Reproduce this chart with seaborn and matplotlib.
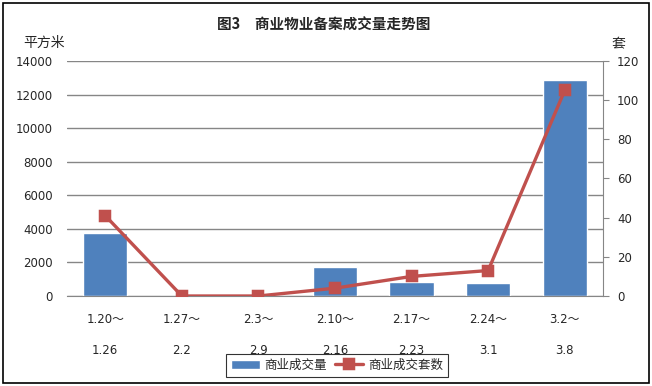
import matplotlib
matplotlib.use("Agg")
import matplotlib.pyplot as plt
import seaborn as sns
import pandas as pd
from matplotlib.patches import Rectangle

sns.set_style("white")
plt.rcParams['font.family'] = ['Noto Sans CJK SC', 'DejaVu Sans']

categories = ["1.20～\n\n1.26", "1.27～\n\n2.2", "2.3～\n\n2.9", "2.10～\n\n2.16",
              "2.17～\n\n2.23", "2.24～\n\n3.1", "3.2～\n\n3.8"]
area = [3740, 0, 0, 1700, 860, 800, 12870]
units = [41, 0, 0, 4, 10, 13, 105]
left_ticks = [0, 2000, 4000, 6000, 8000, 10000, 12000, 14000]
right_ticks = [0, 20, 40, 60, 80, 100, 120]

bar_color = "#4F81BD"
line_color = "#C0504D"
grid_color = "#868686"

df = pd.DataFrame({"period": categories, "area": area, "units": units})

fig = plt.figure(figsize=(6.52, 3.86), dpi=100)
ax = fig.add_axes([67/652, 1-296/386, (603-67)/652, (296-61)/386])

sns.barplot(data=df, x="period", y="area", color=bar_color, width=0.58,
            saturation=1, ax=ax, label="商业成交量", zorder=2)
ax.set_ylim(0, 14000)
ax.set_yticks(left_ticks)
ax.set_yticklabels([str(t) for t in left_ticks], fontsize=8.5, family=['DejaVu Sans'])
ax.yaxis.grid(True, color=grid_color, linewidth=1)
ax.set_axisbelow(True)
ax.set_xlabel("")
ax.set_ylabel("")
for s in ["top", "left", "right"]:
    ax.spines[s].set_visible(False)
ax.spines["bottom"].set_color(grid_color)
ax.tick_params(axis="y", length=0, pad=10)
ax.tick_params(axis="x", length=0, pad=12)
for lbl in ax.get_xticklabels():
    lbl.set_fontsize(8.5)
    lbl.set_linespacing(1.25)
    lbl.set_family(['DejaVu Sans', 'Noto Sans CJK SC'])

ax2 = ax.twinx()
sns.pointplot(data=df, x="period", y="units", color=line_color, markers="s",
              linestyles="-", ax=ax2, label="商业成交套数", markersize=7,
              linewidth=2.4)
ax2.set_ylim(0, 120)
ax2.set_yticks(right_ticks)
ax2.set_yticklabels([str(t) for t in right_ticks], fontsize=8.5, family=['DejaVu Sans'])
ax2.set_ylabel("")
for s in ["top", "left", "bottom"]:
    ax2.spines[s].set_visible(False)
ax2.spines["right"].set_color(grid_color)
ax2.tick_params(axis="y", length=4, color=grid_color, pad=6)
ax.set_xlim(-0.5, 6.5)

fig.text(324/652, 1-25/386, "图3　商业物业备案成交量走势图", ha="center", va="center",
         fontsize=10.5, fontweight="bold")
fig.text(44/652, 1-43/386, "平方米", ha="center", va="center", fontsize=10)
fig.text(618/652, 1-44/386, "套", ha="center", va="center", fontsize=10)

h1, l1 = ax.get_legend_handles_labels()
h2, l2 = ax2.get_legend_handles_labels()
if ax2.get_legend():
    ax2.get_legend().remove()
if ax.get_legend():
    ax.get_legend().remove()
leg = fig.legend(h1 + h2, l1 + l2, loc="center", bbox_to_anchor=(337/652, 1-365/386),
                 ncol=2, frameon=True, fancybox=False, fontsize=9,
                 handlelength=2.3, columnspacing=0.6, borderpad=0.4, handletextpad=0.4)
leg.get_frame().set_edgecolor("black")
leg.get_frame().set_linewidth(0.8)

fig.patches.append(Rectangle((3/652, 3/386), 646/652, 380/386, transform=fig.transFigure,
                             fill=False, edgecolor="black", linewidth=1.2))

fig.savefig("out.png", dpi=100)
